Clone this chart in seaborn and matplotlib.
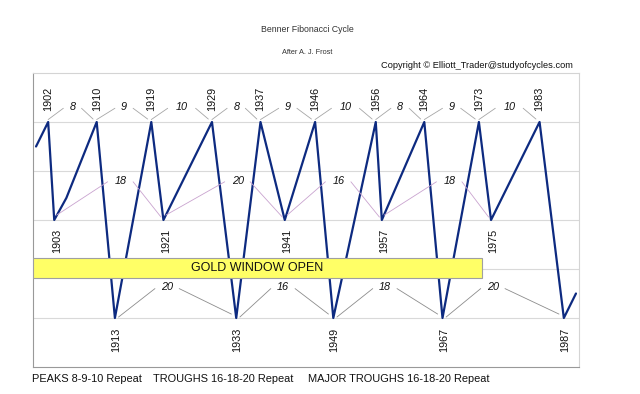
import numpy as np
import pandas as pd
import matplotlib.pyplot as plt
from matplotlib.patches import Rectangle
import seaborn as sns

# cycle path (year, level): peaks = 5, troughs = 3, major troughs = 1
cycle_years = [1900, 1902, 1903, 1905, 1910, 1913, 1919, 1921, 1929, 1933, 1937,
               1941, 1946, 1949, 1956, 1957, 1964, 1967, 1973, 1975, 1983, 1987, 1989]
cycle_values = [4.5, 5, 3, 3.45, 5, 1, 5, 3, 5, 1, 5,
                3, 5, 1, 5, 3, 5, 1, 5, 3, 5, 1, 1.5]

peak_years = [1902, 1910, 1919, 1929, 1937, 1946, 1956, 1964, 1973, 1983]
peak_gaps = [8, 9, 10, 8, 9, 10, 8, 9, 10]

trough_years = [1903, 1921, 1941, 1957, 1975]
trough_gaps = [18, 20, 16, 18]
trough_gap_x = [1914.0, 1933.3, 1949.9, 1968.2]

major_years = [1913, 1933, 1949, 1967, 1987]
major_gaps = [20, 16, 18, 20]
major_gap_x = [1921.6, 1940.7, 1957.5, 1975.3]

footer = ["PEAKS 8-9-10 Repeat", "TROUGHS 16-18-20 Repeat", "MAJOR TROUGHS 16-18-20 Repeat"]

df = pd.DataFrame({"Year": cycle_years, "Level": cycle_values})

sns.set_style("white")
plt.rcParams['font.family'] = ['Liberation Sans', 'DejaVu Sans']

fig = plt.figure(figsize=(6.4, 3.94), dpi=100)
ax = fig.add_axes([33 / 640, 1 - 367 / 394, 546 / 640, 294 / 394])

sns.lineplot(data=df, x="Year", y="Level", color="#0d2a80", linewidth=1.6,
             sort=False, ax=ax, zorder=2)

ax.set_xlim(1899.5, 1989.5)
ax.set_ylim(0, 6)
ax.set_xticks([1899.5 + 11 * k for k in range(9)])
ax.set_yticks(range(7))
ax.set_xticklabels([])
ax.set_yticklabels([])
ax.tick_params(axis="both", length=3, width=0.8, color="#999999", direction="out")
ax.set_xlabel("")
ax.set_ylabel("")
for y in range(1, 6):
    ax.axhline(y, color="#d9d9d9", lw=0.8, zorder=0)
for s in ["top", "right"]:
    ax.spines[s].set_color("#d4d4d4")
    ax.spines[s].set_linewidth(0.8)
for s in ["left", "bottom"]:
    ax.spines[s].set_color("#999999")
    ax.spines[s].set_linewidth(0.8)

lab_kw = dict(rotation=90, ha="center", va="center", fontsize=7.8, color="#111111")
num_kw = dict(ha="center", va="center", fontsize=7.8, style="italic", color="#111111")

# peaks
for yr in peak_years:
    ax.text(yr, 5.47, str(yr), **lab_kw)
for a, b, n in zip(peak_years[:-1], peak_years[1:], peak_gaps):
    mid = (a + b) / 2
    g = 1.5 if n < 10 else 2.3
    ax.text(mid, 5.3, str(n), **num_kw)
    ax.plot([a, mid - g], [5.05, 5.28], color="#a6a6a6", lw=0.6)
    ax.plot([mid + g, b - 0.6], [5.28, 5.06], color="#a6a6a6", lw=0.6)

# troughs
for yr in trough_years:
    ax.text(yr + 0.4, 2.57, str(yr), **lab_kw)
for a, b, n, mx in zip(trough_years[:-1], trough_years[1:], trough_gaps, trough_gap_x):
    ax.text(mx, 3.8, str(n), **num_kw)
    ax.plot([a + 0.4, mx - 2.2], [3.1, 3.78], color="#c9a3cf", lw=0.6)
    ax.plot([mx + 2.0, b - 0.4], [3.78, 3.06], color="#c9a3cf", lw=0.6)

# major troughs
for yr in major_years:
    ax.text(yr + 0.2, 0.55, str(yr), **lab_kw)
for a, b, n, mx in zip(major_years[:-1], major_years[1:], major_gaps, major_gap_x):
    ax.text(mx, 1.64, str(n), **num_kw)
    ax.plot([a + 0.6, mx - 2.0], [1.02, 1.6], color="#8c8c8c", lw=0.6)
    ax.plot([mx + 2.0, b - 0.8], [1.6, 1.08], color="#8c8c8c", lw=0.6)

# gold window box
ax.add_patch(Rectangle((1899.5, 1.82), 74.0, 0.4, facecolor="#ffff66",
                       edgecolor="#a0a0a0", lw=0.8, zorder=4))
ax.text(1936.5, 2.02, "GOLD WINDOW OPEN", ha="center", va="center",
        fontsize=9, color="#111111", zorder=5)

# titles
fig.text(307 / 640, 1 - 30 / 394, "Benner Fibonacci Cycle", ha="center", va="center",
         fontsize=6.3, color="#333333")
fig.text(307 / 640, 1 - 52 / 394, "After A. J. Frost", ha="center", va="center",
         fontsize=5.3, color="#333333")
fig.text(573 / 640, 1 - 65 / 394, "Copyright \u00a9 Elliott_Trader@studyofcycles.com",
         ha="right", va="center", fontsize=6.7, color="#111111")

for txt, x in zip(footer, [32, 153, 308]):
    fig.text(x / 640, 1 - 379 / 394, txt, ha="left", va="center", fontsize=7.9,
             color="#111111")

plt.savefig("out.png", dpi=100)
